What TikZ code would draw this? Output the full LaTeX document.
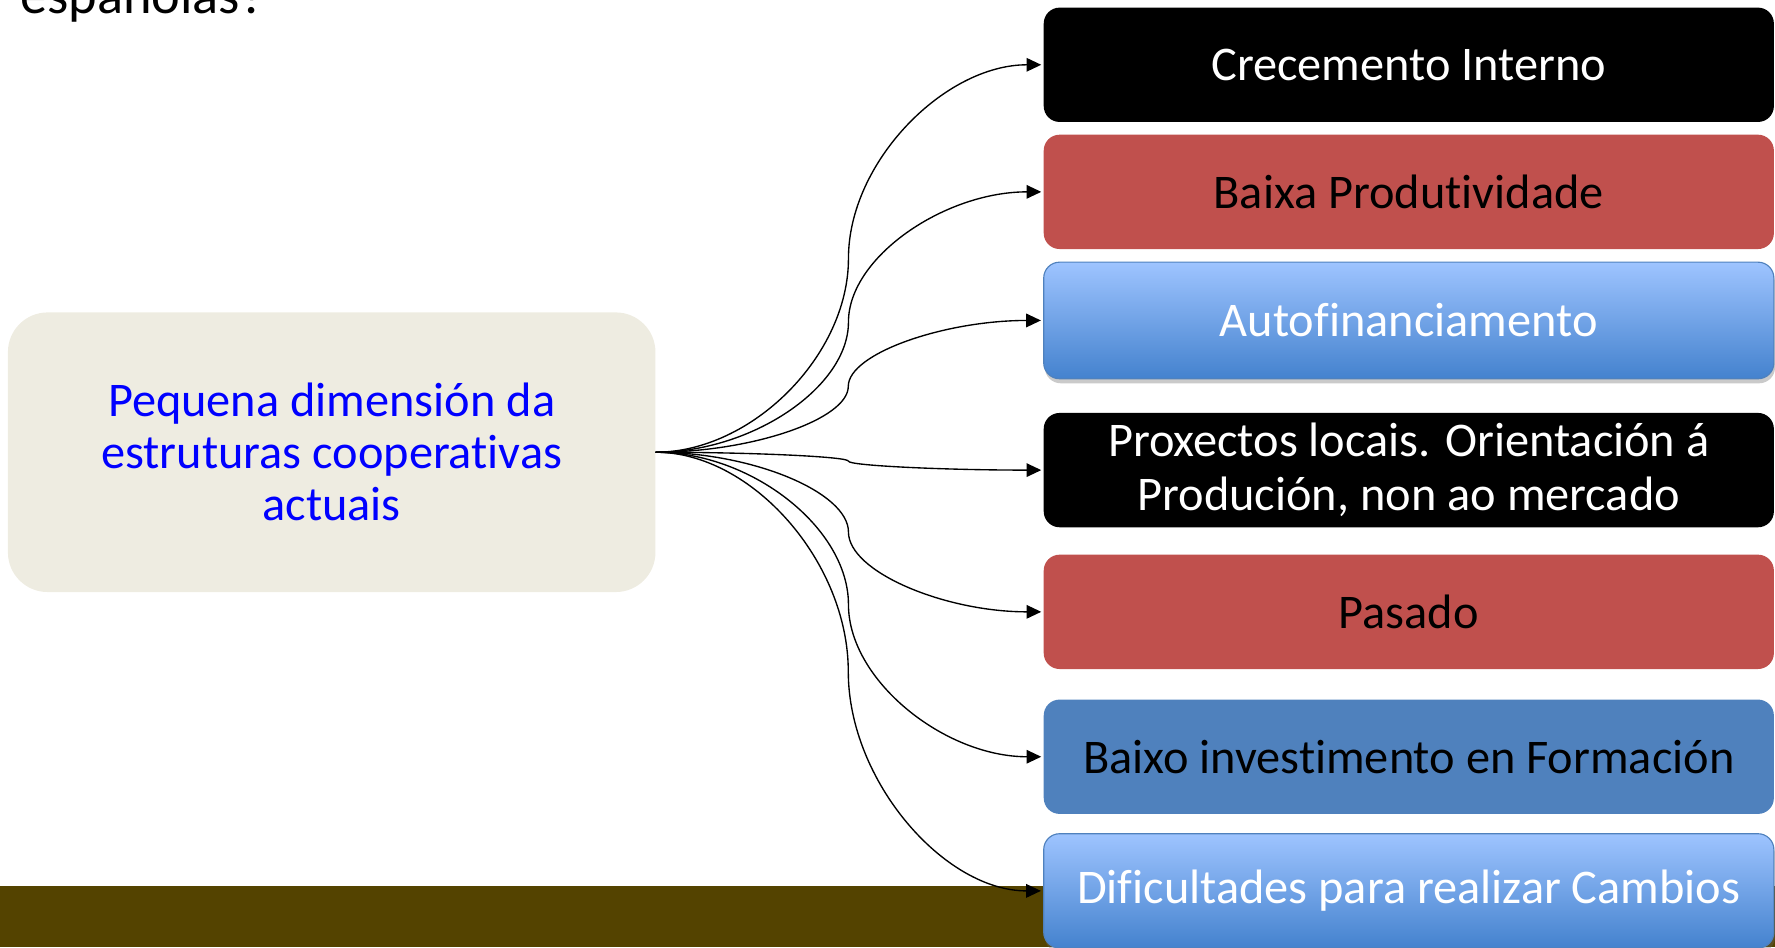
\documentclass[tikz,border=0pt]{standalone}
\usepackage{fontspec}
\setmainfont{Carlito}[Ligatures={NoCommon,NoContextual}]
\usetikzlibrary{arrows.meta,calc,shadows}
\definecolor{barcol}{RGB}{84,67,0}
\definecolor{leftfill}{RGB}{238,236,225}
\definecolor{redbox}{RGB}{192,80,77}
\definecolor{bluebox}{RGB}{79,129,189}
\definecolor{gradtop}{RGB}{158,196,255}
\definecolor{gradbot}{RGB}{68,130,206}
\definecolor{gradline}{RGB}{79,129,189}
\tikzset{
  item/.style={rounded corners=14pt, minimum width=645pt, minimum height=101pt,
    inner sep=2pt, align=center, font=\fontsize{42.7}{48}\selectfont},
  blackitem/.style={item, fill=black, text=white},
  reditem/.style={item, fill=redbox, text=black},
  blueitem/.style={item, fill=bluebox, text=black},
  graditem/.style={item, top color=gradtop, bottom color=gradbot, draw=gradline,
    line width=1pt, text=white,
    drop shadow={shadow xshift=1pt, shadow yshift=-4pt, opacity=0.35, fill=black!60}},
  srcbox/.style={rounded corners=35pt, minimum width=572pt, minimum height=247pt,
    fill=leftfill, text=blue, align=center, font=\fontsize{42.7}{46}\selectfont},
  conn/.style={line width=1.2pt, draw=black, -{Triangle[length=13pt,width=12pt]}}
}
\begin{document}
\begin{tikzpicture}[x=1pt,y=1pt]
\useasboundingbox (0,0) rectangle (1568,836.6);
% bottom bar
\fill[barcol] (0,0) rectangle (1568,53.6);
% title fragment
\node[anchor=base west, inner sep=0pt, font=\fontsize{48}{54}\selectfont] (title) at (17.7,825) {españolas?};
% source box
\node[srcbox] (src) at (293,437.1) {Pequena dimensión da\\estruturas cooperativas\\actuais};
% target boxes
\node[blackitem] (t1) at (1244.5,779.35) {Crecemento Interno};
\node[reditem]   (t2) at (1244.5,667.1) {Baixa Produtividade};
\node[graditem, minimum height=103pt] (t3) at (1244.5,553.5) {Autofinanciamento};
\node[blackitem] (t4) at (1244.5,421.3) {Proxectos locais. Orientación á\\Produción, non ao mercado};
\node[reditem]   (t5) at (1244.5,296.1) {Pasado};
\node[blueitem]  (t6) at (1244.5,168.1) {Baixo investimento en Formación};
\node[graditem]  (t7) at (1244.5,49.6) {Dificultades para realizar Cambios};
% connectors
\coordinate (s) at (src.east);
\foreach \t in {t1,t2,t3,t4,t5,t6,t7} {
  \coordinate (e) at ([xshift=-2pt]\t.west);
  \coordinate (m) at ($(s)!0.5!(e)$);
  \draw[conn] (s) .. controls ($(s)!0.5!(s -| m)$) and ($(m)!0.5!(m |- s)$) .. (m)
    .. controls ($(m)!0.5!(m |- e)$) and ($(e)!0.5!(e -| m)$) .. (e);
}
\end{tikzpicture}
\end{document}
